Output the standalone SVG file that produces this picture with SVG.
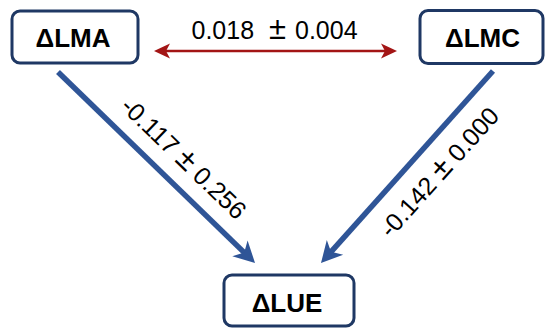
<svg xmlns="http://www.w3.org/2000/svg" width="545" height="328" viewBox="0 0 545 328">
<style>
.box{fill:#ffffff;stroke:#1f3864;stroke-width:3}
.nlab{font-family:"Liberation Sans",Arial,sans-serif;font-weight:bold;font-size:26px;fill:#000;text-anchor:middle}
.elab{font-family:"Liberation Sans",Arial,sans-serif;font-size:25px;fill:#000}
.pm{font-size:31px}
.blue{stroke:#2f5597;stroke-width:5.5;fill:none}
.red{stroke:#a31515;stroke-width:2.5;fill:none}
</style>
<defs>
<marker id="bhead" markerUnits="userSpaceOnUse" orient="auto" refX="0" refY="0" overflow="visible">
<path d="M-9,-11 L12,0 L-9,11 L-3,0 Z" fill="#2f5597"/>
</marker>
<marker id="rhead" markerUnits="userSpaceOnUse" orient="auto-start-reverse" refX="0" refY="0" overflow="visible">
<path d="M-8,-7.5 L8,0 L-8,7.5 L-4,0 Z" fill="#a31515"/>
</marker>
</defs>
<g id="connectors">
<line class="red" x1="162" y1="51" x2="389" y2="51" marker-start="url(#rhead)" marker-end="url(#rhead)"/>
<line class="blue" x1="58" y1="72" x2="246.4" y2="254.6" marker-end="url(#bhead)"/>
<line class="blue" x1="493" y1="71" x2="329" y2="254.1" marker-end="url(#bhead)"/>
<text class="elab" y="38.5"><tspan x="191.5">0.018</tspan><tspan class="pm" x="269" y="39">±</tspan><tspan x="295" y="38.5">0.004</tspan></text>
<text class="elab" text-anchor="middle" transform="translate(184,158) rotate(44)" y="9">-0.117 <tspan class="pm">±</tspan> 0.256</text>
<text class="elab" text-anchor="middle" transform="translate(439,172) rotate(-48)" y="9">-0.142 <tspan class="pm">±</tspan> 0.000</text>
</g>
<g id="node-lma">
<rect class="box" x="12" y="11" width="126" height="52" rx="8"/>
<text class="nlab" x="73" y="47">ΔLMA</text>
</g>
<g id="node-lmc">
<rect class="box" x="420" y="10.5" width="123" height="53" rx="8"/>
<text class="nlab" x="482.5" y="47">ΔLMC</text>
</g>
<g id="node-lue">
<rect class="box" x="224" y="275" width="130" height="51" rx="8"/>
<text class="nlab" x="287" y="312">ΔLUE</text>
</g>
</svg>
